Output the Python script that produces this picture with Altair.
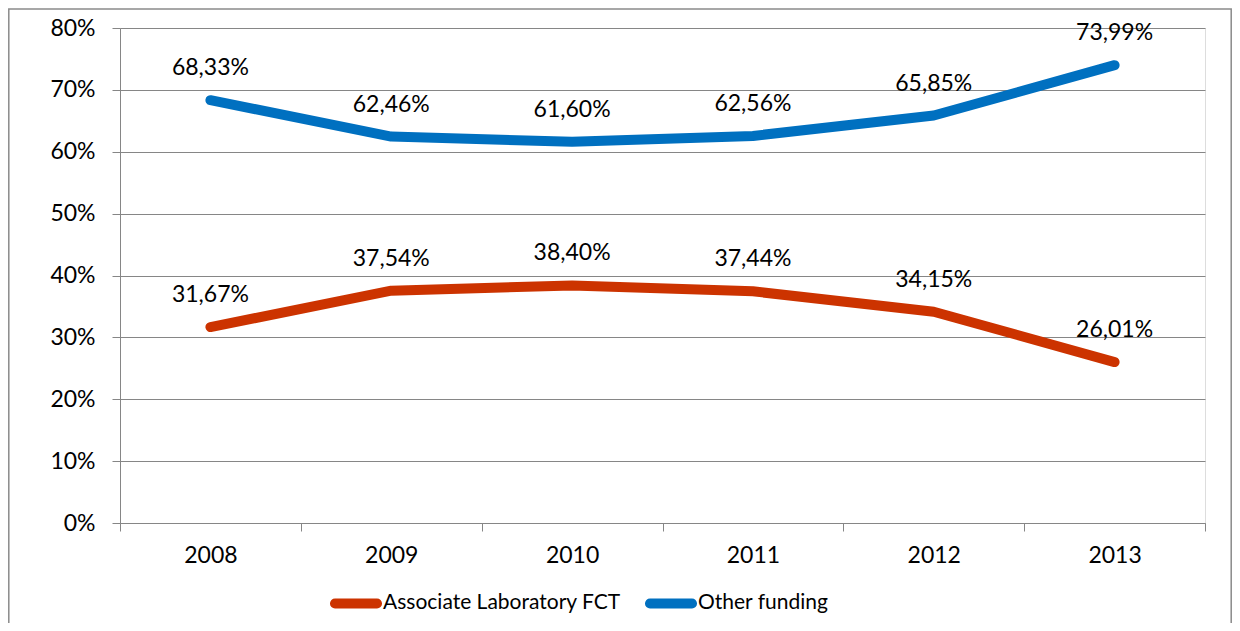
import altair as alt
import pandas as pd

years = ["2008", "2009", "2010", "2011", "2012", "2013"]
series_names = ["Associate Laboratory FCT", "Other funding"]
assoc = [31.67, 37.54, 38.40, 37.44, 34.15, 26.01]
other = [68.33, 62.46, 61.60, 62.56, 65.85, 73.99]
y_ticks = [0, 10, 20, 30, 40, 50, 60, 70, 80]
colors = ["#CC3300", "#0070C0"]

rows = []
for name, vals in zip(series_names, [assoc, other]):
    for yr, v in zip(years, vals):
        rows.append({"year": yr, "series": name, "value": v,
                     "label": f"{v:.2f}".replace(".", ",") + "%"})
df = pd.DataFrame(rows)

W, H = 1085, 495
FONT = "Lato"
GRID = "#868686"

x_enc = alt.X(
    "year:N", sort=years,
    scale=alt.Scale(type="band", paddingInner=0, paddingOuter=0),
    axis=alt.Axis(title=None, labelAngle=0, tickBand="extent", ticks=True, tickSize=8,
                  tickColor=GRID, domainColor=GRID, labelFontSize=23, labelColor="black",
                  labelPadding=13, grid=False, labelFont=FONT),
)
y_enc = alt.Y(
    "value:Q",
    scale=alt.Scale(domain=[0, 80], nice=False, zero=True),
    axis=alt.Axis(title=None, values=y_ticks, labelExpr="datum.value + '%'", tickSize=8,
                  tickColor=GRID, domainColor=GRID, gridColor=GRID, grid=True,
                  labelFontSize=23, labelColor="black", labelPadding=17, labelFont=FONT),
)

capsule = "M-1,-0.002H1A0.002,0.002,0,0,1,1,0.002H-1A0.002,0.002,0,0,1,-1,-0.002Z"

base = alt.Chart(df)
lines = base.mark_line(strokeWidth=10, strokeCap="round", strokeJoin="round").encode(
    x=x_enc, y=y_enc,
    color=alt.Color("series:N", sort=series_names,
                    scale=alt.Scale(domain=series_names, range=colors),
                    legend=alt.Legend(title=None, orient="none", legendX=210, legendY=549,
                                      direction="horizontal", symbolType=capsule,
                                      symbolSize=1764, symbolStrokeWidth=10,
                                      labelFontSize=21, labelFont=FONT, labelColor="black",
                                      labelOffset=1, columnPadding=8, labelLimit=500)),
)
labels = base.mark_text(dy=-32, fontSize=23, font=FONT, color="black", baseline="middle").encode(
    x=alt.X("year:N", sort=years), y="value:Q", text="label:N"
)
border = alt.Chart(pd.DataFrame({"b": [0]})).mark_rect(
    filled=False, stroke="#8a8a8a", strokeWidth=1.5, clip=False
).encode(x=alt.value(-111.2), x2=alt.value(1111.2), y=alt.value(-19), y2=alt.value(640))

chart = alt.layer(lines, labels, border).properties(
    width=W, height=H,
    padding={"left": 112, "top": 20, "right": 27, "bottom": 100},
    autosize=alt.AutoSizeParams(type="none"),
).configure_view(strokeWidth=0).configure(font=FONT)

chart.save("out.html", embed_options={"renderer": "svg", "actions": False})
